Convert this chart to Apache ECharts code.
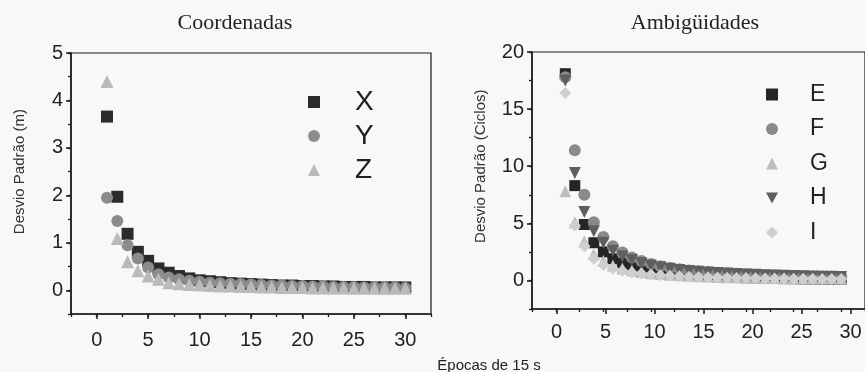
<!DOCTYPE html>
<html>
<head>
<meta charset="utf-8">
<script src="https://cdn.jsdelivr.net/npm/echarts@6/dist/echarts.min.js"></script>
<style>
  html, body { margin: 0; padding: 0; background: #f8f8f8; }
  #chart { width: 865px; height: 372px; }
</style>
</head>
<body>
<div id="chart"></div>
<script>
// epochs (15 s each)
const epochs = [1,2,3,4,5,6,7,8,9,10,11,12,13,14,15,16,17,18,19,20,21,22,23,24,25,26,27,28,29,30]

// Coordenadas (m)
const coordX = [3.66,1.97,1.19,0.81,0.62,0.46,0.37,0.30,0.25,0.21,0.19,0.17,0.15,0.14,0.13,0.12,0.11,0.10,0.10,0.09,0.09,0.08,0.08,0.07,0.07,0.07,0.06,0.06,0.06,0.06]
const coordY = [1.95,1.46,0.95,0.67,0.48,0.34,0.27,0.23,0.20,0.18,0.16,0.15,0.14,0.13,0.12,0.11,0.10,0.10,0.09,0.09,0.08,0.08,0.07,0.07,0.07,0.06,0.06,0.06,0.06,0.05]
const coordZ = [4.40,1.09,0.60,0.41,0.30,0.23,0.16,0.14,0.12,0.11,0.10,0.09,0.09,0.08,0.08,0.07,0.07,0.06,0.06,0.06,0.05,0.05,0.05,0.05,0.04,0.04,0.04,0.04,0.04,0.04]

// Ambigüidades (ciclos)
const ambE = [18.1,8.3,4.9,3.3,2.5,1.9,1.5,1.2,1.0,0.85,0.72,0.62,0.54,0.47,0.42,0.37,0.33,0.30,0.27,0.24,0.22,0.20,0.18,0.16,0.15,0.13,0.12,0.11,0.10,0.09]
const ambF = [17.8,11.4,7.5,5.1,3.8,3.0,2.45,2.0,1.7,1.45,1.25,1.1,0.98,0.88,0.80,0.73,0.67,0.62,0.58,0.54,0.50,0.47,0.44,0.42,0.40,0.37,0.35,0.34,0.32,0.30]
const ambG = [7.8,5.1,3.4,2.3,1.7,1.3,1.05,0.87,0.74,0.64,0.56,0.50,0.45,0.41,0.37,0.34,0.31,0.29,0.27,0.25,0.24,0.22,0.21,0.20,0.19,0.18,0.17,0.16,0.16,0.15]
const ambH = [17.5,9.4,6.0,4.3,3.3,2.6,2.1,1.8,1.5,1.3,1.15,1.02,0.92,0.83,0.76,0.70,0.65,0.60,0.56,0.52,0.49,0.46,0.43,0.41,0.39,0.37,0.35,0.33,0.32,0.30]
const ambI = [16.4,4.8,3.0,1.9,1.35,1.05,0.85,0.70,0.60,0.52,0.46,0.41,0.37,0.33,0.30,0.28,0.26,0.24,0.22,0.21,0.20,0.18,0.17,0.16,0.15,0.15,0.14,0.13,0.13,0.12]

const pair = arr => epochs.map((e, i) => [e, arr[i]])
const sans = 'Liberation Sans, Arial, sans-serif'
const serif = 'Liberation Serif, Times New Roman, serif'
const downTri = 'path://M0,0 L10,0 L5,9 Z'
const ink = '#1a1a1a'

// plot boxes: full range (with padding); labels/long ticks only on 0..30 and 0..yMax
const boxL = { left: 71, top: 53, width: 360, height: 261, xMin: -2.5, xMax: 32.5, yMin: -0.5, yMax: 5, yMinor: 0.5, yMajor: 1, xLabelGap: 16 }
const boxR = { left: 532, top: 52, width: 343, height: 257, xMin: -2.5, xMax: 32.5, yMin: -2.5, yMax: 20, yMinor: 2.5, yMajor: 5, xLabelGap: 13 }

// grid for the x labels: same bottom as the box, spanning x 0..30
function xLabGrid(b) {
  const px = b.width / (b.xMax - b.xMin)
  return { left: b.left - b.xMin * px, top: b.top, width: 30 * px, height: b.height }
}
// grid for the y labels: same left as the box, spanning y 0..yMax
function yLabGrid(b) {
  const py = b.height / (b.yMax - b.yMin)
  return { left: b.left, top: b.top, width: b.width, height: b.yMax * py }
}

let myChart = echarts.init(document.getElementById('chart'))

const hidden = gi => ({ gridIndex: gi, type: 'value', show: false, min: 0, max: 1 })

// axes of the full box: line + short ticks at every half step
function xFrame(gi, b) {
  return {
    gridIndex: gi, type: 'value', min: b.xMin, max: b.xMax, interval: 2.5,
    splitLine: { show: false },
    axisLine: { onZero: false, lineStyle: { color: ink, width: 1.5 } },
    axisTick: { length: 3, lineStyle: { color: ink, width: 1.3 } },
    axisLabel: { show: false }
  }
}
function yFrame(gi, b) {
  return {
    gridIndex: gi, type: 'value', min: b.yMin, max: b.yMax, interval: b.yMinor,
    splitLine: { show: false },
    axisLine: { onZero: false, lineStyle: { color: ink, width: 1.5 } },
    axisTick: { length: 3, lineStyle: { color: ink, width: 1.3 } },
    axisLabel: { show: false }
  }
}
// long ticks + labels
function xLab(gi, b) {
  return {
    gridIndex: gi, type: 'value', min: 0, max: 30, interval: 5,
    splitLine: { show: false },
    axisLine: { show: false, onZero: false },
    axisTick: { show: true, length: 5, lineStyle: { color: ink, width: 1.5 } },
    axisLabel: { color: '#222', fontSize: 20, fontFamily: sans, margin: b.xLabelGap }
  }
}
function yLab(gi, b, name) {
  return {
    gridIndex: gi, type: 'value', min: 0, max: b.yMax, interval: b.yMajor,
    name: name, nameLocation: 'middle', nameGap: 44,
    nameTextStyle: { color: '#333', fontSize: 15, fontFamily: sans },
    splitLine: { show: false },
    axisLine: { show: false, onZero: false },
    axisTick: { show: true, length: 5, lineStyle: { color: ink, width: 1.5 } },
    axisLabel: { color: '#222', fontSize: 20, fontFamily: sans, margin: 8 }
  }
}

function scatter(name, gi, data, symbol, size, color) {
  return {
    name: name, type: 'scatter', xAxisIndex: gi, yAxisIndex: gi,
    symbol: symbol, symbolSize: size,
    itemStyle: { color: color, opacity: 1 },
    data: pair(data)
  }
}

myChart.setOption({
  animation: false,
  backgroundColor: '#f8f8f8',
  title: [
    { text: 'Coordenadas', left: 230, top: 7, textAlign: 'center',
      textStyle: { fontFamily: serif, fontWeight: 'normal', fontSize: 22, color: '#222' } },
    { text: 'Ambigüidades', left: 690, top: 7, textAlign: 'center',
      textStyle: { fontFamily: serif, fontWeight: 'normal', fontSize: 22, color: '#222' } },
    { text: 'Épocas de 15 s', left: 484, top: 353, textAlign: 'center',
      textStyle: { fontFamily: sans, fontWeight: 'normal', fontSize: 15, color: '#222' } }
  ],
  legend: [
    {
      orient: 'vertical', left: 303, top: 83, itemWidth: 12, itemHeight: 12, itemGap: 6,
      textStyle: { fontSize: 28, fontFamily: sans, color: '#222', padding: [0, 0, 0, 30] },
      data: [
        { name: 'X', icon: 'rect' },
        { name: 'Y', icon: 'circle' },
        { name: 'Z', icon: 'triangle' }
      ]
    },
    {
      orient: 'vertical', left: 761, top: 78, itemWidth: 12, itemHeight: 12, itemGap: 11.5,
      textStyle: { fontSize: 23, fontFamily: sans, color: '#222', padding: [0, 0, 0, 27] },
      data: [
        { name: 'E', icon: 'rect' },
        { name: 'F', icon: 'circle' },
        { name: 'G', icon: 'triangle' },
        { name: 'H', icon: downTri },
        { name: 'I', icon: 'diamond' }
      ]
    }
  ],
  grid: [
    { left: boxL.left, top: boxL.top, width: boxL.width, height: boxL.height, show: true, borderColor: ink, borderWidth: 1.2, backgroundColor: 'transparent' },
    { left: boxR.left, top: boxR.top, width: boxR.width, height: boxR.height, show: true, borderColor: ink, borderWidth: 1.2, backgroundColor: 'transparent' },
    xLabGrid(boxL), yLabGrid(boxL),
    xLabGrid(boxR), yLabGrid(boxR)
  ],
  xAxis: [
    xFrame(0, boxL), xFrame(1, boxR),
    xLab(2, boxL), hidden(3),
    xLab(4, boxR), hidden(5)
  ],
  yAxis: [
    yFrame(0, boxL), yFrame(1, boxR),
    hidden(2), yLab(3, boxL, 'Desvio Padrão (m)'),
    hidden(4), yLab(5, boxR, 'Desvio Padrão (Ciclos)')
  ],
  series: [
    scatter('X', 0, coordX, 'rect', 12, '#2b2b2b'),
    scatter('Y', 0, coordY, 'circle', 12, '#8c8c8c'),
    scatter('Z', 0, coordZ, 'triangle', 13, '#bababa'),
    scatter('E', 1, ambE, 'rect', 11, '#262626'),
    scatter('F', 1, ambF, 'circle', 12, '#8a8a8a'),
    scatter('G', 1, ambG, 'triangle', 12, '#bdbdbd'),
    scatter('H', 1, ambH, downTri, 12, '#5f5f5f'),
    scatter('I', 1, ambI, 'diamond', 12, '#cfcfcf')
  ]
})
</script>
</body>
</html>
